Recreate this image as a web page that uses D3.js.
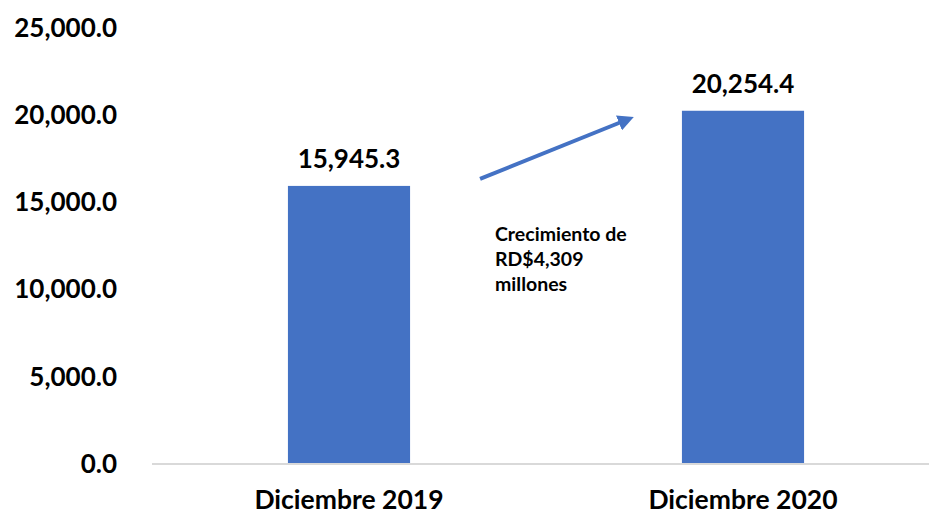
<!DOCTYPE html>
<html>
<head>
<meta charset="utf-8">
<script src="https://cdn.jsdelivr.net/npm/d3@7"></script>
<style>
  html, body { margin: 0; padding: 0; background: #fff; }
  svg { display: block; font-family: Lato, "Open Sans", sans-serif; font-weight: 700; }
</style>
</head>
<body>
<svg id="chart" width="929" height="515"></svg>
<script>
// Saldo a fin de periodo (millones de RD$)
const categories = ["Diciembre 2019", "Diciembre 2020"];
const values = [15945.3, 20254.4];
const yTicks = [0, 5000, 10000, 15000, 20000, 25000];
const annotationLines = ["Crecimiento de", "RD$4,309", "millones"];

const svg = d3.select("#chart");
const W = 929, H = 515;
const barColor = "#4472C4";

const x = d3.scaleBand()
  .domain(categories)
  .range([152, 940])
  .paddingInner(0.69)
  .paddingOuter(0.345);

const y = d3.scaleLinear()
  .domain([0, 25000])
  .range([464, 28]);

const fmt = d3.format(",.1f");

// Y axis labels (no line, no tick marks)
const yAxis = d3.axisLeft(y)
  .tickValues(yTicks)
  .tickFormat(fmt)
  .tickSize(0)
  .tickPadding(0);
const gy = svg.append("g")
  .attr("transform", "translate(117,0)")
  .call(yAxis);
gy.select(".domain").remove();
gy.selectAll("text")
  .attr("font-family", "Lato, 'Open Sans', sans-serif")
  .attr("font-weight", 700)
  .attr("font-size", 26)
  .attr("fill", "#000");

// Bars
svg.append("g").selectAll("rect")
  .data(values)
  .join("rect")
  .attr("x", (d, i) => x(categories[i]))
  .attr("width", x.bandwidth())
  .attr("y", d => y(d))
  .attr("height", d => y(0) - y(d))
  .attr("fill", barColor);

// X axis: baseline and category labels
const xAxis = d3.axisBottom(x).tickSize(0).tickPadding(0);
const gx = svg.append("g")
  .attr("transform", `translate(0,${y(0)})`)
  .call(xAxis);
gx.select(".domain")
  .attr("stroke", "#d9d9d9")
  .attr("stroke-width", 2)
  .attr("d", `M152,0H${W}`);
gx.selectAll("text")
  .attr("dy", null)
  .attr("y", 45)
  .attr("font-family", "Lato, 'Open Sans', sans-serif")
  .attr("font-weight", 700)
  .attr("font-size", 26.5)
  .attr("fill", "#000");

// Value labels above bars
svg.append("g").selectAll("text")
  .data(values)
  .join("text")
  .attr("x", (d, i) => x(categories[i]) + x.bandwidth() / 2)
  .attr("y", d => y(d) - 18)
  .attr("text-anchor", "middle")
  .attr("font-size", 26)
  .attr("fill", "#000")
  .text(d => fmt(d));

// Growth arrow between the two bars
const defs = svg.append("defs");
defs.append("marker")
  .attr("id", "arrowHead")
  .attr("viewBox", "0 0 10 10")
  .attr("refX", 2)
  .attr("refY", 5)
  .attr("markerWidth", 4)
  .attr("markerHeight", 4)
  .attr("orient", "auto")
  .append("path")
  .attr("d", "M0,0L10,5L0,10Z")
  .attr("fill", barColor);

const ax0 = x(categories[0]) + x.bandwidth() + 70;
const ax1 = x(categories[1]) - 52;
svg.append("line")
  .attr("x1", ax0)
  .attr("y1", y(values[0]) - 7)
  .attr("x2", ax1 - 8)
  .attr("y2", y(values[1]) + 11)
  .attr("stroke", barColor)
  .attr("stroke-width", 4)
  .attr("marker-end", "url(#arrowHead)");

// Growth annotation
const note = svg.append("text")
  .attr("x", 495)
  .attr("y", 241)
  .attr("font-size", 19.5)
  .attr("fill", "#000");
note.selectAll("tspan")
  .data(annotationLines)
  .join("tspan")
  .attr("x", 495)
  .attr("dy", (d, i) => i === 0 ? 0 : 25)
  .text(d => d);
</script>
</body>
</html>
